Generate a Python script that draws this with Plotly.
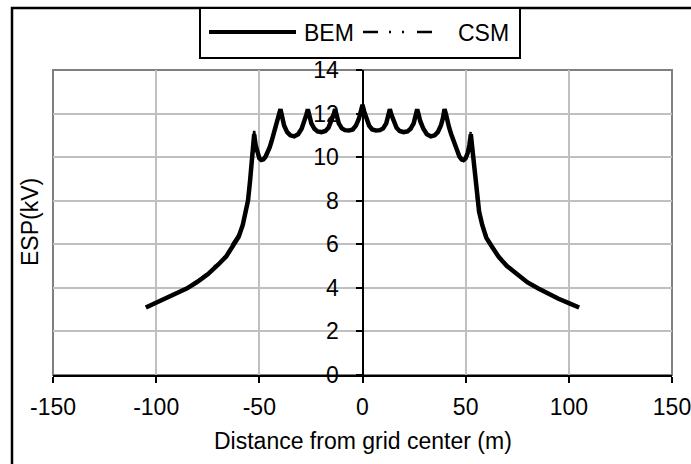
import plotly.graph_objects as go

# distance from grid center (m)
distance = [
    -105, -100, -95, -90, -85, -80, -75, -70, -66, -63, -60, -58, -56.5, -55.5, -54.5, -53.8,
    -53, -52.5, -51.8, -51, -50, -49, -48, -47, -46, -45, -44, -43, -42, -41, -40.5, -39.75,
    -39, -38, -36.5, -35, -33.1, -31.2, -29.5, -28, -27.2, -26.5,
    -25.8, -24.8, -23.3, -21.8, -19.9, -18, -16.5, -15, -14, -13.25,
    -12.5, -11.5, -10, -8.5, -6.6, -4.7, -3.2, -1.8, -0.8, 0,
    0.8, 1.8, 3.2, 4.7, 6.6, 8.5, 10, 11.5, 12.5, 13.25,
    14, 15, 16.5, 18, 19.9, 21.8, 23.3, 24.8, 25.8, 26.5,
    27.2, 28, 29.5, 31.2, 33.1, 35, 36.5, 38, 39, 39.75,
    40.5, 41, 42, 43, 44, 45, 46, 47, 48, 49, 50, 51, 51.8, 52.5, 53,
    53.8, 54.5, 55.5, 56.5, 58, 60, 63, 66, 70, 75, 80, 85, 90, 95, 100, 105,
]

# ESP (kV), boundary element method
bem = [
    3.10, 3.33, 3.52, 3.74, 3.98, 4.28, 4.62, 5.06, 5.45, 5.90, 6.35, 6.90, 7.50, 8.00, 8.90, 9.90,
    10.60, 11.05, 10.55, 10.20, 9.95, 9.87, 9.90, 10.02, 10.20, 10.45, 10.75, 11.05, 11.35, 11.70, 11.95, 12.20,
    11.80, 11.45, 11.15, 11.00, 10.95, 11.05, 11.30, 11.65, 11.95, 12.20,
    11.85, 11.55, 11.30, 11.18, 11.15, 11.20, 11.35, 11.65, 11.95, 12.20,
    11.85, 11.55, 11.32, 11.24, 11.22, 11.27, 11.45, 11.75, 12.10, 12.40,
    12.10, 11.75, 11.45, 11.27, 11.22, 11.24, 11.32, 11.55, 11.85, 12.20,
    11.95, 11.65, 11.35, 11.20, 11.15, 11.18, 11.30, 11.55, 11.85, 12.20,
    11.95, 11.65, 11.30, 11.05, 10.95, 11.00, 11.15, 11.45, 11.80, 12.20,
    11.95, 11.70, 11.35, 11.05, 10.75, 10.45, 10.20, 10.02, 9.90, 9.87, 9.95, 10.20, 10.55, 11.05, 10.60,
    9.90, 8.90, 8.00, 7.50, 6.90, 6.30, 5.85, 5.42, 5.00, 4.60, 4.25, 3.98, 3.72, 3.50, 3.30, 3.10,
]

# ESP (kV), charge simulation method
csm = [
    3.13, 3.31, 3.55, 3.76, 4.02, 4.30, 4.68, 5.12, 5.50, 6.02, 6.45, 6.95, 7.60, 8.10, 8.95, 9.95,
    10.75, 11.20, 10.60, 10.15, 9.90, 9.82, 9.85, 9.98, 10.18, 10.42, 10.72, 11.02, 11.33, 11.68, 11.92, 12.15,
    11.78, 11.45, 11.18, 11.03, 10.98, 11.08, 11.32, 11.66, 11.92, 12.15,
    11.82, 11.55, 11.32, 11.20, 11.18, 11.22, 11.37, 11.66, 11.93, 12.18,
    11.83, 11.55, 11.34, 11.26, 11.24, 11.29, 11.47, 11.76, 12.08, 12.35,
    12.07, 11.76, 11.47, 11.29, 11.24, 11.26, 11.34, 11.56, 11.84, 12.17,
    11.93, 11.66, 11.37, 11.22, 11.18, 11.20, 11.32, 11.55, 11.83, 12.15,
    11.92, 11.66, 11.32, 11.08, 10.98, 11.03, 11.18, 11.45, 11.78, 12.15,
    11.92, 11.68, 11.33, 11.02, 10.72, 10.42, 10.18, 9.98, 9.85, 9.82, 9.90, 10.15, 10.60, 11.20, 10.75,
    9.95, 8.95, 8.10, 7.55, 6.95, 6.40, 5.90, 5.48, 5.05, 4.65, 4.28, 4.00, 3.75, 3.53, 3.32, 3.12,
]

x_ticks = [-150, -100, -50, 0, 50, 100, 150]
x_tick_labels = ["-150", "-100", "-50", "0", "50", "100", "150"]

FONT = "Liberation Sans, Arial, sans-serif"
L, R, T, B = 53, 19, 70, 89
W, H = 691, 464
PW, PH = W - L - R, H - T - B
CSM_DASH = "15px,11px,2px,11px,2px,13px"


def px(x):
    return (x - L) / PW


def py(y):
    return (H - B - y) / PH


fig = go.Figure()
fig.add_trace(go.Scatter(x=distance, y=bem, name="BEM", mode="lines",
                         line=dict(color="black", width=4.5)))
fig.add_trace(go.Scatter(x=distance, y=csm, name="CSM", mode="lines",
                         line=dict(color="black", width=2.5, dash=CSM_DASH)))

fig.update_layout(
    width=W, height=H,
    margin=dict(l=L, r=R, t=T, b=B, autoexpand=False),
    paper_bgcolor="white", plot_bgcolor="white",
    showlegend=False,
    font=dict(family=FONT, size=23, color="black"),
)
fig.update_xaxes(range=[-150, 150], tickvals=x_ticks, ticktext=x_tick_labels,
                 showgrid=True, gridcolor="#c0c0c0", gridwidth=2, automargin=False,
                 zeroline=False, showline=True, linecolor="black", linewidth=2,
                 ticks="outside", ticklen=6, tickcolor="black", tickwidth=2,
                 ticklabelstandoff=4, ticklabeloverflow="allow")
fig.update_yaxes(range=[0, 14], dtick=2, showgrid=True, gridcolor="#c0c0c0", gridwidth=2,
                 zeroline=False, showline=True, linecolor="black", linewidth=2, automargin=False,
                 anchor="free", position=0.5, side="left",
                 ticks="outside", ticklen=6, tickcolor="black", tickwidth=2,
                 ticklabelstandoff=12)

# plot area border
fig.add_shape(type="rect", xref="paper", yref="paper", x0=0, x1=1, y0=0, y1=1,
              line=dict(color="#808080", width=2), layer="below")
# chart border
fig.add_shape(type="rect", xref="paper", yref="paper", x0=px(12), x1=px(720), y0=py(8), y1=py(490),
              line=dict(color="black", width=2.5))

# legend box
fig.add_shape(type="rect", xref="paper", yref="paper", x0=px(200), x1=px(520), y0=py(58), y1=py(8),
              line=dict(color="black", width=2), fillcolor="white")
fig.add_shape(type="line", xref="paper", yref="paper", x0=px(209), x1=px(296), y0=py(32), y1=py(32),
              line=dict(color="black", width=4))
fig.add_shape(type="line", xref="paper", yref="paper", x0=px(363), x1=px(440), y0=py(32), y1=py(32),
              line=dict(color="black", width=2.5, dash=CSM_DASH))
fig.add_annotation(text="BEM", xref="paper", yref="paper", x=px(302), y=py(33),
                   xanchor="left", yanchor="middle", showarrow=False)
fig.add_annotation(text="CSM", xref="paper", yref="paper", x=px(456), y=py(33),
                   xanchor="left", yanchor="middle", showarrow=False)

# axis titles
fig.add_annotation(text="Distance from grid center (m)", xref="paper", yref="paper",
                   x=px(363), y=py(441), xanchor="center", yanchor="middle", showarrow=False)
fig.add_annotation(text="ESP(kV)", xref="paper", yref="paper", textangle=-90,
                   x=px(30), y=py(222), xanchor="center", yanchor="middle", showarrow=False)

# browser default body margin would shift the chart by 8px
fig.write_html("out.html", config={"displayModeBar": False},
               post_script="document.body.style.margin='0';")
